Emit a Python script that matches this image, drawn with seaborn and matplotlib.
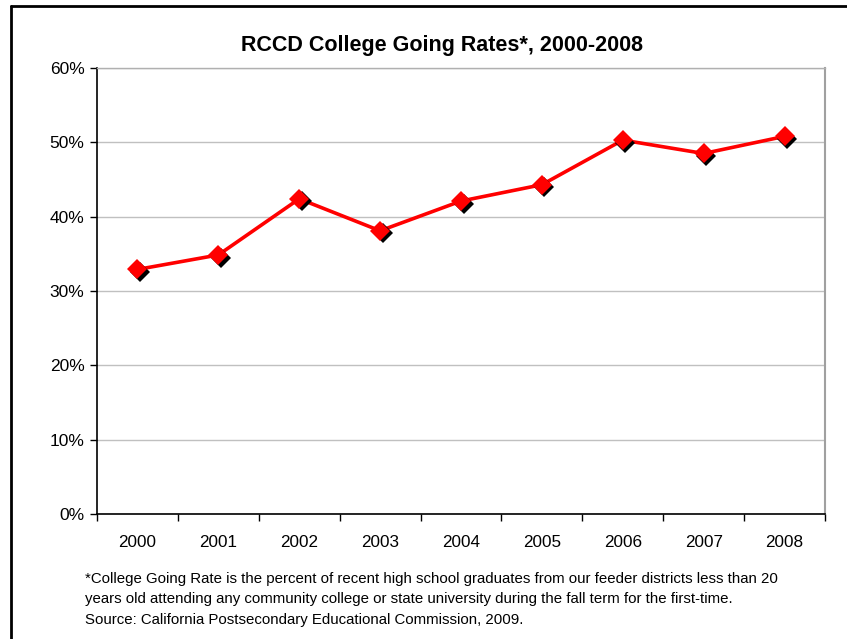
import matplotlib
matplotlib.use("Agg")
import matplotlib.pyplot as plt
import matplotlib.transforms as mtransforms
from matplotlib.lines import Line2D
from matplotlib.ticker import FuncFormatter, FixedLocator
import seaborn as sns
import numpy as np
import pandas as pd

years = ["2000", "2001", "2002", "2003", "2004", "2005", "2006", "2007", "2008"]
rates = [32.9, 34.85, 42.4, 38.1, 42.1, 44.3, 50.3, 48.5, 50.8]
y_ticks = [0, 10, 20, 30, 40, 50, 60]
title = "RCCD College Going Rates*, 2000-2008"
notes = [
    "*College Going Rate is the percent of recent high school graduates from our feeder districts less than 20",
    "years old attending any community college or state university during the fall term for the first-time.",
    "Source: California Postsecondary Educational Commission, 2009.",
]

sns.set_style("white")
plt.rcParams["font.family"] = ["Liberation Sans", "DejaVu Sans"]
plt.rcParams["text.color"] = "black"
plt.rcParams["xtick.color"] = "black"
plt.rcParams["ytick.color"] = "black"
plt.rcParams["axes.labelcolor"] = "black"

W, H = 847, 639
fig = plt.figure(figsize=(W / 100, H / 100), dpi=100)
ax = fig.add_axes([97 / W, 1 - 514 / H, (825 - 97) / W, (514 - 68) / H])

df = pd.DataFrame({"year": years, "rate": rates})
df["pos"] = np.arange(len(years))

# line
sns.lineplot(data=df, x="pos", y="rate", ax=ax, color="#FF0000", linewidth=2.6,
             zorder=3, legend=False)
# marker shadows
shadow = mtransforms.offset_copy(ax.transData, fig=fig, x=2.6, y=-2.6, units="dots")
sns.lineplot(data=df, x="pos", y="rate", ax=ax, color="black", linestyle="none",
             marker="D", markersize=10.5, markeredgewidth=0, transform=shadow,
             zorder=4, legend=False)
# markers
sns.lineplot(data=df, x="pos", y="rate", ax=ax, color="#FF0000", linestyle="none",
             marker="D", markersize=10.5, markeredgewidth=0, zorder=5, legend=False)

ax.set_xlim(-0.5, len(years) - 0.5)
ax.set_ylim(0, 60)
ax.set_xlabel("")
ax.set_ylabel("")

ax.xaxis.set_major_locator(FixedLocator(np.arange(-0.5, len(years), 1.0)))
ax.set_xticklabels([""] * (len(years) + 1))
ax.set_xticks(np.arange(len(years)), labels=years, minor=True)
ax.tick_params(axis="x", which="major", direction="out", length=5, width=1, color="black")
ax.tick_params(axis="x", which="minor", length=0, pad=15, labelsize=12.3, labelcolor="black")

ax.set_yticks(y_ticks)
ax.yaxis.set_major_formatter(FuncFormatter(lambda v, p: f"{int(v)}%"))
ax.tick_params(axis="y", direction="out", length=5, width=1, color="black", pad=4,
               labelsize=12.5, labelcolor="black")
ax.tick_params(left=True, bottom=True)

ax.grid(axis="y", color="#c0c0c0", linewidth=1)
ax.set_axisbelow(True)

for s in ["left", "bottom"]:
    ax.spines[s].set_color("black")
    ax.spines[s].set_linewidth(1.2)
ax.spines["top"].set_color("#b0b0b0")
ax.spines["top"].set_linewidth(1)
ax.spines["right"].set_color("#a0a0a0")
ax.spines["right"].set_linewidth(1.5)

fig.text(442 / W, 1 - 45 / H, title, ha="center", va="center", fontsize=15.5,
         fontweight="bold", color="black")

for i, line in enumerate(notes):
    fig.text(85 / W, 1 - (579 + 20.5 * i) / H, line, ha="left", va="center",
             fontsize=10.8, color="black")

# outer frame (left and top)
fig.add_artist(Line2D([10.5 / W, 10.5 / W], [0, 1 - 5.5 / H], color="black", linewidth=2,
                      transform=fig.transFigure))
fig.add_artist(Line2D([10.5 / W, 1], [1 - 5.5 / H, 1 - 5.5 / H], color="black", linewidth=2,
                      transform=fig.transFigure))

fig.savefig("out.png", dpi=100)
